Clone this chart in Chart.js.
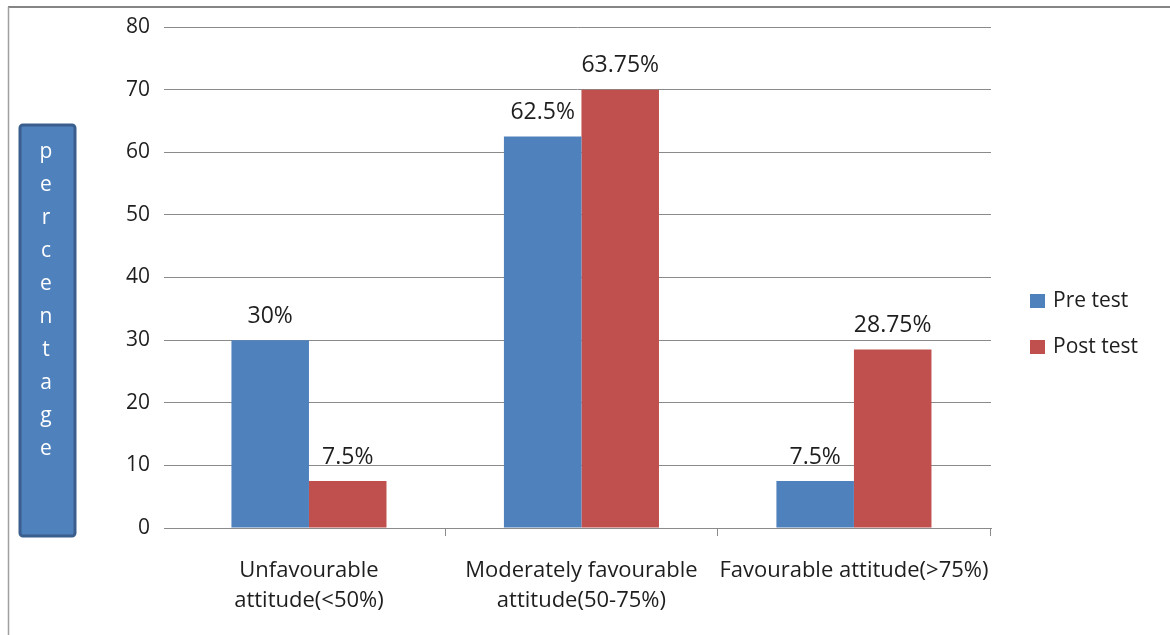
<!DOCTYPE html>
<html>
<head>
<meta charset="utf-8">
<script src="https://cdn.jsdelivr.net/npm/chart.js@4/dist/chart.umd.min.js"></script>
<style>
html,body{margin:0;padding:0;background:#fff;}
canvas{display:block;}
</style>
</head>
<body>
<canvas id="c" width="1170" height="635"></canvas>
<script>
const categories = [
  ["Unfavourable", "attitude(<50%)"],
  ["Moderately favourable", "attitude(50-75%)"],
  "Favourable attitude(>75%)"
];
const seriesNames = ["Pre test", "Post test"];
const preTest = [30, 62.5, 7.5];
const postTest = [7.5, 70, 28.5];
const preLabels = ["30%", "62.5%", "7.5%"];
const postLabels = ["7.5%", "63.75%", "28.75%"];
const yTicks = [0, 10, 20, 30, 40, 50, 60, 70, 80];
const yTitle = "percentage";
const colors = ["#4F81BD", "#C0504D"];

const FONT = "'Open Sans', 'Liberation Sans', sans-serif";
const TEXT = "#1e1e1e";

const frame = {
  id: 'frame',
  beforeDraw(chart) {
    const ctx = chart.ctx;
    ctx.save();
    ctx.fillStyle = '#fff';
    ctx.fillRect(0, 0, chart.width, chart.height);
    ctx.strokeStyle = '#858585';
    ctx.lineWidth = 2;
    ctx.beginPath();
    ctx.moveTo(8, 7); ctx.lineTo(chart.width, 7);
    ctx.stroke();
    ctx.strokeStyle = '#a0a0a0';
    ctx.lineWidth = 1.5;
    ctx.beginPath();
    ctx.moveTo(8.5, 7); ctx.lineTo(8.5, chart.height);
    ctx.stroke();
    ctx.restore();
  },
  afterDraw(chart) {
    const ctx = chart.ctx;
    ctx.save();
    // y title box
    const bx = 20, by = 125, bw = 55, bh = 411;
    ctx.fillStyle = '#4F81BD';
    ctx.strokeStyle = '#3A5F8E';
    ctx.lineWidth = 3;
    ctx.beginPath();
    ctx.roundRect(bx, by, bw, bh, 3);
    ctx.fill();
    ctx.stroke();
    ctx.fillStyle = '#ffffff';
    ctx.font = "21px " + FONT;
    ctx.textAlign = 'center';
    ctx.textBaseline = 'middle';
    yTitle.split('').forEach((ch, i) => {
      ctx.fillText(ch, 46, 152 + i * 33);
    });
    // data labels
    ctx.fillStyle = TEXT;
    ctx.font = "23px " + FONT;
    ctx.textAlign = 'center';
    ctx.textBaseline = 'middle';
    const lbls = [preLabels, postLabels];
    chart.data.datasets.forEach((ds, di) => {
      const meta = chart.getDatasetMeta(di);
      meta.data.forEach((bar, i) => {
        ctx.fillText(lbls[di][i], bar.x, bar.y - 24);
      });
    });
    // legend
    ctx.font = "21px " + FONT;
    ctx.textAlign = 'left';
    chart.data.datasets.forEach((ds, di) => {
      const cy = 301 + di * 46;
      ctx.fillStyle = ds.backgroundColor;
      ctx.fillRect(1030, cy - 7, 15, 14);
      ctx.fillStyle = TEXT;
      ctx.fillText(ds.label, 1053, cy);
    });
    ctx.restore();
  }
};

new Chart(document.getElementById('c'), {
  type: 'bar',
  data: {
    datasets: [
      { label: seriesNames[0], data: preTest.map((v, i) => ({ x: i, y: v })), backgroundColor: colors[0], borderWidth: 0 },
      { label: seriesNames[1], data: postTest.map((v, i) => ({ x: i, y: v })), backgroundColor: colors[1], borderWidth: 0 }
    ]
  },
  options: {
    responsive: false,
    animation: false,
    devicePixelRatio: 1,
    layout: { padding: { left: 0, right: 179, top: 27, bottom: 0 } },
    plugins: { legend: { display: false }, tooltip: { enabled: false } },
    datasets: { bar: { categoryPercentage: 0.569, barPercentage: 1 } },
    scales: {
      x: {
        type: 'linear',
        offset: false,
        min: -0.532, max: 2.503,
        afterBuildTicks(s) { s.ticks = categories.map((c, i) => ({ value: i })); },
        grid: {
          drawOnChartArea: false, drawTicks: true, tickLength: 8, offset: true,
          color: (c) => c.index === 0 ? 'rgba(0,0,0,0)' : '#8a8a8a'
        },
        border: { display: true, color: '#8a8a8a', width: 1 },
        ticks: {
          color: TEXT, font: { family: FONT, size: 22, lineHeight: 1.35 }, padding: 20,
          maxRotation: 0, autoSkip: false,
          callback: (v) => categories[v]
        },
        afterFit(s) { s.height = 107; }
      },
      y: {
        min: 0, max: 80,
        afterBuildTicks(s) { s.ticks = yTicks.map(v => ({ value: v })); },
        grid: { drawTicks: false, color: '#8a8a8a' },
        border: { display: false },
        ticks: { color: TEXT, font: { family: FONT, size: 21 }, padding: 14 },
        afterFit(s) { s.width = 164; }
      }
    }
  },
  plugins: [frame]
});
</script>
</body>
</html>
